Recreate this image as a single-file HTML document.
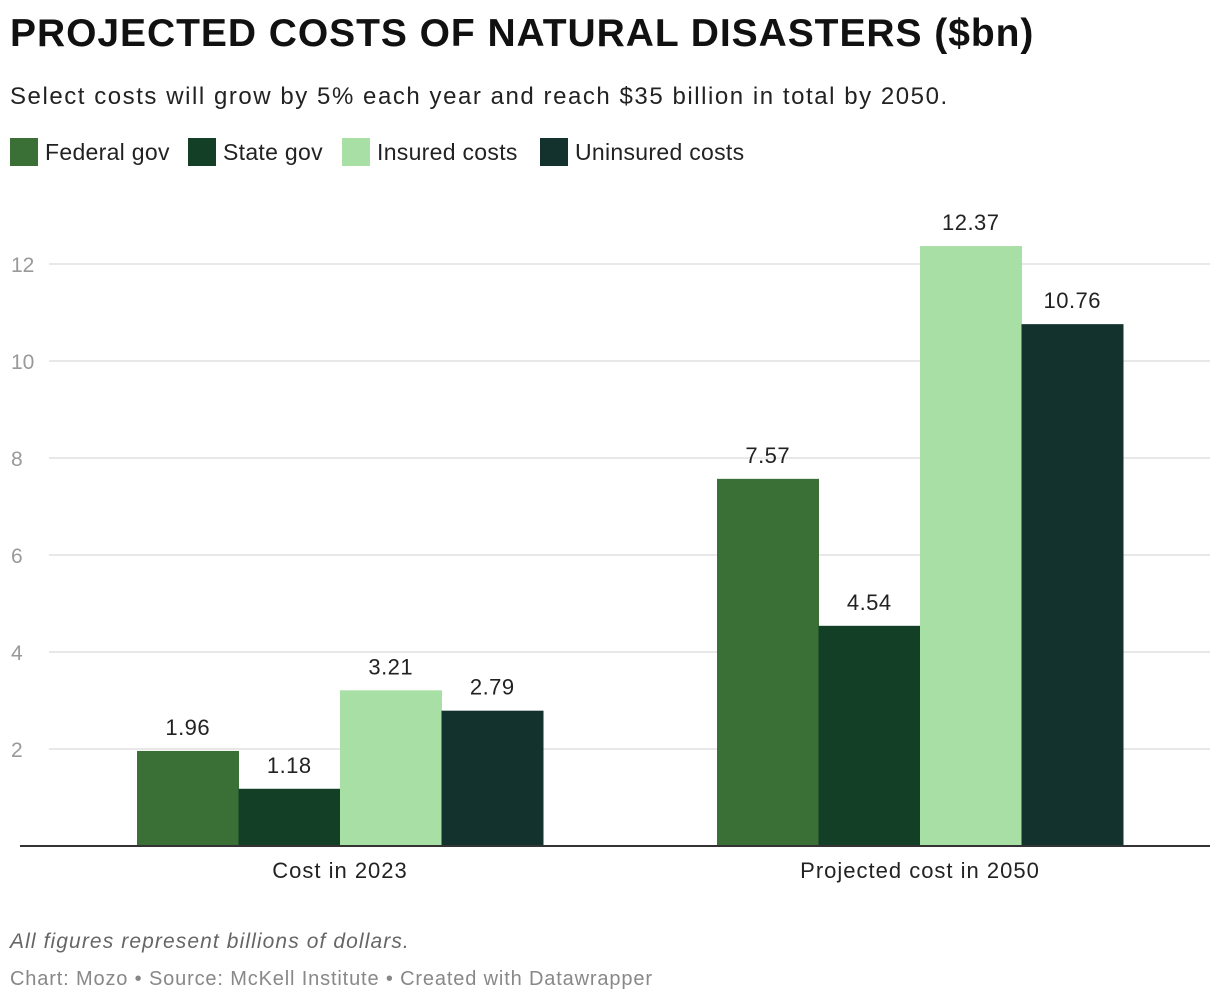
<!DOCTYPE html>
<html><head><meta charset="utf-8">
<style>
body{margin:0;width:1220px;height:1006px;background:#fff;font-family:"Liberation Sans",sans-serif;position:relative;overflow:hidden;color:#222}
.t{position:absolute;white-space:nowrap}
.leg{position:absolute;top:138px;height:28px;display:flex;align-items:center;font-size:23px;color:#222;letter-spacing:0.3px}
.leg span{display:inline-block;width:28px;height:28px;margin-right:7px}
</style></head><body>
<div class="t" style="left:10px;top:12px;font-size:39px;font-weight:bold;color:#111;letter-spacing:0.95px">PROJECTED COSTS OF NATURAL DISASTERS ($bn)</div>
<div class="t" style="left:10px;top:83px;font-size:24px;color:#222;letter-spacing:1.55px">Select costs will grow by 5% each year and reach $35 billion in total by 2050.</div>
<div class="leg" style="left:10px"><span style="background:#3a6f35"></span>Federal gov</div>
<div class="leg" style="left:188px"><span style="background:#133f27"></span>State gov</div>
<div class="leg" style="left:342px"><span style="background:#a8dfa4"></span>Insured costs</div>
<div class="leg" style="left:540px"><span style="background:#13322d"></span>Uninsured costs</div>
<svg id="chart" width="1220" height="1006" style="position:absolute;left:0;top:0" font-family="Liberation Sans, sans-serif"></svg>
<div class="t" style="left:10px;top:930px;font-size:21px;font-style:italic;color:#666;letter-spacing:1.1px">All figures represent billions of dollars.</div>
<div class="t" style="left:10px;top:968px;font-size:20px;color:#888;letter-spacing:0.85px">Chart: Mozo • Source: McKell Institute • Created with Datawrapper</div>
<script>
const categories=["Cost in 2023","Projected cost in 2050"];
const seriesNames=["Federal gov","State gov","Insured costs","Uninsured costs"];
const federal=[1.96,7.57];
const state=[1.18,4.54];
const insured=[3.21,12.37];
const uninsured=[2.79,10.76];
const yTicks=[2,4,6,8,10,12];
const colors=["#3a6f35","#133f27","#a8dfa4","#13322d"];
const series=[federal,state,insured,uninsured];
const NS="http://www.w3.org/2000/svg";
const svg=document.getElementById('chart');
const y0=846,pxPer=48.5;
function y(v){return y0-v*pxPer;}
const groupStart=[137,717],barW=101.5;
function mk(tag,attrs){const e=document.createElementNS(NS,tag);for(const k in attrs)e.setAttribute(k,attrs[k]);svg.appendChild(e);return e;}
yTicks.forEach(t=>{
  const l=mk('line',{x1:49,x2:1210,y1:y(t),y2:y(t),stroke:'#e0e0e0','stroke-width':1.5});
  
  
  const tx=mk('text',{x:11,y:y(t)+8,'font-size':21,fill:'#999'});tx.textContent=t;
  
  
});
categories.forEach((c,ci)=>{
  series.forEach((s,si)=>{
    const x=groupStart[ci]+si*barW;
    const r=mk('rect',{x:x,y:y(s[ci]),width:barW+0.5,height:s[ci]*pxPer,fill:colors[si]});
    
    
    const tx=mk('text',{x:x+barW/2,y:y(s[ci])-16,'font-size':22,fill:'#222','text-anchor':'middle','letter-spacing':0.5});tx.textContent=s[ci].toFixed(2);
    
    
  });
  const cx=groupStart[ci]+2*barW;
  const tx=mk('text',{x:cx,y:878,'font-size':22,fill:'#222','text-anchor':'middle','letter-spacing':1});tx.textContent=c;
  
  
});
const base=mk('line',{x1:20,x2:1210,y1:y0,y2:y0,stroke:'#333','stroke-width':2});


</script>
</body></html>
